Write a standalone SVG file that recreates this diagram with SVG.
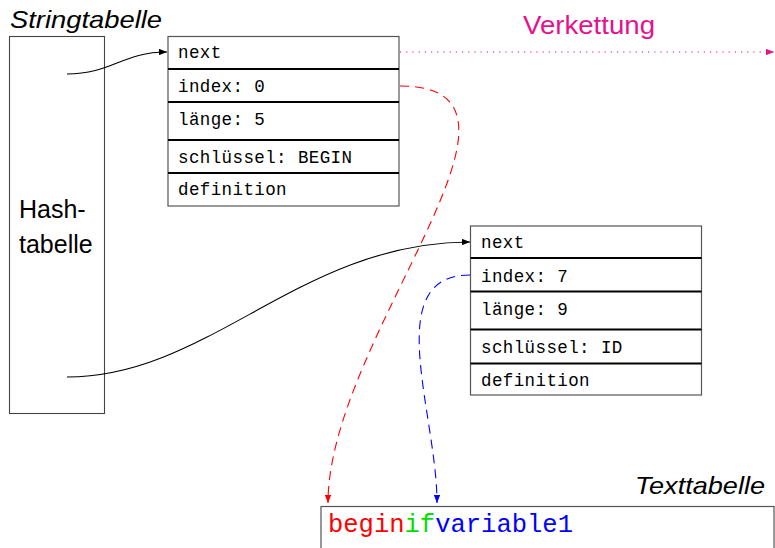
<svg xmlns="http://www.w3.org/2000/svg" width="775" height="548" viewBox="0 0 775 548">
<style>
.box{fill:#fff;stroke:#555;stroke-width:1.2}
.sep{stroke:#000;stroke-width:1.8}
.tt{font-family:"Liberation Mono","DejaVu Sans Mono",monospace;font-size:17.5px;letter-spacing:0.4px;fill:#000}
.sans{font-family:"Liberation Sans","DejaVu Sans",sans-serif;fill:#000}
.it{font-style:italic}
.con{fill:none;stroke-width:1.1}
</style>
<defs>
<marker id="ak" viewBox="0 0 10 8" refX="10" refY="4" markerWidth="8" markerHeight="6.4" markerUnits="userSpaceOnUse" orient="auto"><path d="M0,0 L10,4 L0,8 Z" fill="#000"/></marker>
<marker id="am" viewBox="0 0 10 8" refX="10" refY="4" markerWidth="8" markerHeight="6.4" markerUnits="userSpaceOnUse" orient="auto"><path d="M0,0 L10,4 L0,8 Z" fill="#e6118c"/></marker>
<marker id="ar" viewBox="0 0 10 8" refX="10" refY="4" markerWidth="8" markerHeight="6.4" markerUnits="userSpaceOnUse" orient="auto"><path d="M0,0 L10,4 L0,8 Z" fill="#f00"/></marker>
<marker id="ab" viewBox="0 0 10 8" refX="10" refY="4" markerWidth="8" markerHeight="6.4" markerUnits="userSpaceOnUse" orient="auto"><path d="M0,0 L10,4 L0,8 Z" fill="#00f"/></marker>
</defs>

<g id="hashtabelle">
<text class="sans it" x="10" y="28" font-size="24" textLength="152" lengthAdjust="spacingAndGlyphs">Stringtabelle</text>
<rect x="9.5" y="36.5" width="95" height="377" fill="#fff" stroke="#444" stroke-width="1.1"/>
<text class="sans" x="19" y="218" font-size="25">Hash-</text>
<text class="sans" x="19" y="253" font-size="25">tabelle</text>
</g>

<g id="eintrag1">
<rect class="box" x="168" y="36.5" width="231" height="169.5"/>
<line class="sep" x1="168" y1="69" x2="399" y2="69"/>
<line class="sep" x1="168" y1="102" x2="399" y2="102"/>
<line class="sep" x1="168" y1="140" x2="399" y2="140"/>
<line class="sep" x1="168" y1="173" x2="399" y2="173"/>
<text class="tt" x="178" y="58">next</text>
<text class="tt" x="178" y="92">index: 0</text>
<text class="tt" x="178" y="125">länge: 5</text>
<text class="tt" x="178" y="163">schlüssel: BEGIN</text>
<text class="tt" x="178" y="195">definition</text>
</g>

<g id="eintrag2">
<rect class="box" x="470.5" y="226" width="231" height="169"/>
<line class="sep" x1="470.5" y1="258" x2="701.5" y2="258"/>
<line class="sep" x1="470.5" y1="291.5" x2="701.5" y2="291.5"/>
<line class="sep" x1="470.5" y1="329.5" x2="701.5" y2="329.5"/>
<line class="sep" x1="470.5" y1="363.5" x2="701.5" y2="363.5"/>
<text class="tt" x="481" y="247.5">next</text>
<text class="tt" x="481" y="282">index: 7</text>
<text class="tt" x="481" y="315">länge: 9</text>
<text class="tt" x="481" y="353">schlüssel: ID</text>
<text class="tt" x="481" y="386">definition</text>
</g>

<g id="verkettung">
<text class="sans" x="523" y="34" font-size="25" fill="#e6118c" style="fill:#e6118c" textLength="132" lengthAdjust="spacingAndGlyphs">Verkettung</text>
</g>

<g id="texttabelle">
<text class="sans it" x="635" y="494" font-size="24" textLength="130" lengthAdjust="spacingAndGlyphs">Texttabelle</text>
<rect x="321" y="506.5" width="453" height="60" fill="#fff" stroke="#555" stroke-width="1.2"/>
<text x="328" y="532" font-family="'Liberation Mono','DejaVu Sans Mono',monospace" font-size="25" textLength="245" lengthAdjust="spacingAndGlyphs"><tspan fill="#f00">begin</tspan><tspan fill="#00e000">if</tspan><tspan fill="#00f">variable1</tspan></text>
</g>

<g id="connectors">
<path class="con" d="M67,74 C112,74 122,52 167,52" stroke="#000" marker-end="url(#ak)"/>
<path class="con" d="M67,377 C210,377 300,242 470,242" stroke="#000" marker-end="url(#ak)"/>
<path class="con" d="M400,52 L774,52" stroke="#e6118c" stroke-width="1.3" stroke-dasharray="1.2 5" marker-end="url(#am)"/>
<path class="con" d="M400,86 C566,86 328,337 328,503" stroke="#f00" stroke-dasharray="9 6" marker-end="url(#ar)"/>
<path class="con" d="M470,275 C380,275 437,413 437,503" stroke="#00f" stroke-dasharray="9 6" marker-end="url(#ab)"/>
</g>
</svg>
